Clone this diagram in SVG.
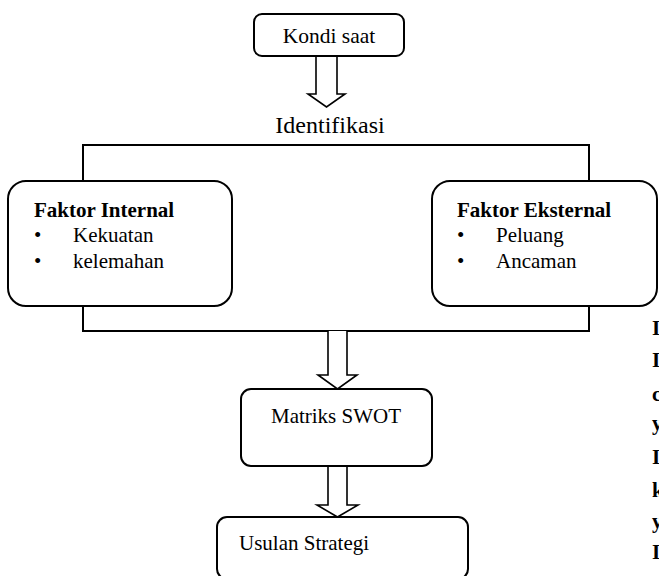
<svg xmlns="http://www.w3.org/2000/svg" width="659" height="576" viewBox="0 0 659 576">
<style>
.box{fill:#fff;stroke:#000;stroke-width:2}
.ln{fill:none;stroke:#000;stroke-width:2}
.arr{fill:#fff;stroke:#000;stroke-width:1.6;stroke-linejoin:miter}
text{font-family:"Liberation Serif","Times New Roman",serif;fill:#000;font-size:21px}
.b{font-weight:bold}
.c{text-anchor:middle}
</style>
<rect width="659" height="576" fill="#fff"/>
<g id="connectors">
<path class="ln" d="M83,181 V145 H589 V181"/>
<path class="ln" d="M83,306 V331 H589 V306"/>
<path class="arr" d="M316,56 V94 H308 L326.5,107 L345,94 H337 V56"/>
<path class="arr" d="M328,331 V375 H318 L337.5,389 L357,375 H347 V331"/>
<path class="arr" d="M328,466 V505 H317 L337.5,517 L358,505 H347 V466"/>
</g>
<g id="kondi">
<rect class="box" x="254" y="14" width="150" height="42" rx="8"/>
<text class="c" x="329" y="43" style="font-size:21.5px">Kondi saat</text>
</g>
<g id="identifikasi">
<text class="c" x="330" y="133" style="font-size:24px">Identifikasi</text>
</g>
<g id="internal">
<rect class="box" x="8" y="181" width="224" height="125" rx="18"/>
<text class="b" x="34" y="217">Faktor Internal</text>
<text x="34" y="242">•</text>
<text x="73" y="242">Kekuatan</text>
<text x="34" y="268">•</text>
<text x="73" y="268">kelemahan</text>
</g>
<g id="eksternal">
<rect class="box" x="432" y="181" width="225" height="125" rx="18"/>
<text class="b" x="457" y="217">Faktor Eksternal</text>
<text x="457" y="242">•</text>
<text x="496" y="242">Peluang</text>
<text x="457" y="268">•</text>
<text x="496" y="268">Ancaman</text>
</g>
<g id="matriks">
<rect class="box" x="241" y="389" width="191" height="77" rx="10"/>
<text class="c" x="336" y="423">Matriks SWOT</text>
</g>
<g id="usulan">
<rect class="box" x="217" y="517" width="251" height="62" rx="10"/>
<text x="239" y="550">Usulan Strategi</text>
</g>
<g id="fragments">
<text class="b" x="652" y="335">I</text>
<text class="b" x="652" y="367">I</text>
<text class="b" x="652" y="401">c</text>
<text class="b" x="652" y="430">y</text>
<text class="b" x="652" y="464">I</text>
<text class="b" x="652" y="497">k</text>
<text class="b" x="652" y="528">y</text>
<text class="b" x="652" y="559">I</text>
</g>
</svg>
